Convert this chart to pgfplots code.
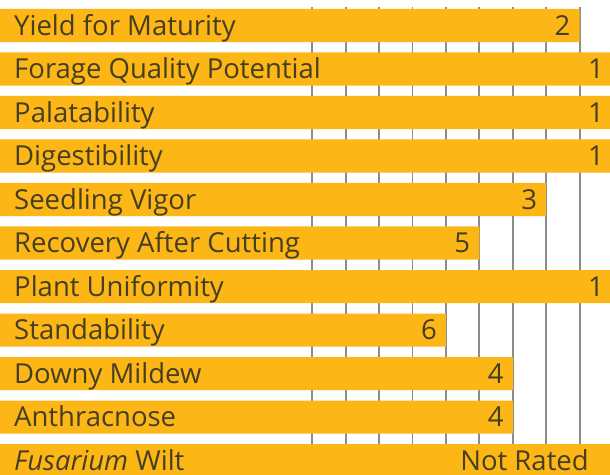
\documentclass[border=0pt]{standalone}
\usepackage{pgfplots}
\usepackage{pgfplotstable}
\pgfplotsset{compat=1.18}
\usepackage{fontspec}
\setmainfont{Open Sans}
\definecolor{barc}{RGB}{252,183,22}
\definecolor{txt}{RGB}{70,62,35}
\definecolor{gridc}{RGB}{140,140,140}

\pgfplotstableread{
idx rating
0 2
1 1
2 1
3 1
4 3
5 5
6 1
7 6
8 4
9 4
}\ratings

\begin{document}
\begin{tikzpicture}
\begin{axis}[
  scale only axis, width=610pt, height=474pt,
  xmin=0, xmax=18.26,
  ymin=-0.586, ymax=10.31, y dir=reverse,
  axis on top, clip=false,
  axis line style={draw=none},
  major tick length=0pt,
  xtick=\empty,
  ytick={0,...,10},
  /pgf/number format/assume math mode=true,
  yticklabels={Yield for Maturity, Forage Quality Potential, Palatability, Digestibility, Seedling Vigor, Recovery After Cutting, Plant Uniformity, Standability, Downy Mildew, Anthracnose, \textit{Fusarium} Wilt},
  yticklabel style={anchor=base west, inner sep=0pt, xshift=14pt, yshift=-9.6pt, font=\fontsize{27.5}{31}\selectfont, text=txt},
  every node near coord/.append style={anchor=base east, inner sep=0pt, xshift=-9pt, yshift=-9.6pt, font=\fontsize{27.5}{31}\selectfont, text=txt},
]
\pgfplotsinvokeforeach{9.35,10.35,11.35,12.35,13.35,14.35,15.35,16.35,17.35}{
  \addplot[gridc, line width=1.8pt, mark=none] coordinates {(#1,-0.425) (#1,10)};
}
\addplot[xbar, bar shift=0pt, bar width=0.759, fill=barc, draw=none,
  nodes near coords, point meta=explicit]
  table[x expr={19.35-\thisrow{rating}}, y=idx, meta=rating] {\ratings};
\addplot[xbar, bar shift=0pt, bar width=0.759, fill=barc, draw=none] coordinates {(19,10)};
\addplot[xbar, bar shift=0pt, bar width=0.759, fill=barc, draw=none,
  nodes near coords={Not Rated}] coordinates {(17.9,10)};
\end{axis}
\pgfresetboundingbox
\path[use as bounding box] (current axis.south west) rectangle (current axis.north east);
\end{tikzpicture}
\end{document}
